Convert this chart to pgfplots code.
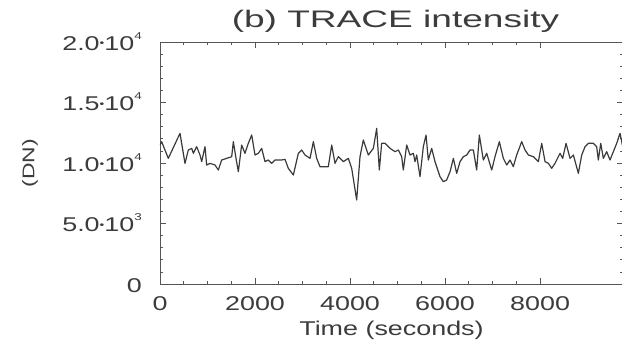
\documentclass[border=0pt]{standalone}
\usepackage{fontspec}
\setmainfont{Liberation Sans}[FakeStretch=1.35]
\newfontfamily\titlefont{Liberation Sans}[FakeStretch=1.55]
\usepackage{pgfplots}
\pgfplotsset{compat=1.18}
\definecolor{axgray}{HTML}{555555}
\definecolor{linegray}{HTML}{3A3A3A}
\definecolor{txtgray}{HTML}{3C3C3C}
\newcommand{\tk}{\fontsize{20}{24}\selectfont}
\newcommand{\sci}[2]{#1\raisebox{0.17em}{\scalebox{0.5}{\textbullet}}10\raisebox{0.55em}{\fontsize{10}{10}\selectfont #2}}
\begin{document}
\begin{tikzpicture}
\begin{axis}[
  name=ax,
  scale only axis,
  width=463bp, height=242bp,
  xmin=0, xmax=9746,
  ymin=0, ymax=20000,
  axis line style={axgray, line width=0.8bp},
  tick style={axgray, line width=0.7bp},
  major tick length=6bp,
  minor tick length=3bp,
  tick align=inside,
  xtick={0,2000,4000,6000,8000},
  xticklabels={0,2000,4000,6000,8000},
  minor x tick num=3,
  ytick={0,5000,10000,15000,20000},
  yticklabels={0,\sci{5.0}{3},\sci{1.0}{4},\sci{1.5}{4},\sci{2.0}{4}},
  minor y tick num=4,
  scaled ticks=false,
  ticklabel style={font=\tk, text=txtgray},
  xticklabel style={anchor=base, yshift=-26bp},
  yticklabel style={anchor=base east, inner sep=0pt, xshift=-18bp, yshift=-8bp},
  title={(b) TRACE intensity},
  title style={at={(axis description cs:0.5,1)}, anchor=base, yshift=9bp, xshift=4bp, font=\titlefont\fontsize{24}{28}\selectfont, text=txtgray},
  xlabel={Time (seconds)},
  every axis x label/.append style={at={(axis description cs:0.5,0)}, anchor=base, yshift=-51bp, font=\tk, text=txtgray},
  ylabel={(DN)},
  ylabel style={at={(axis description cs:0,0.5)}, anchor=center, yshift=130bp, font=\fontsize{17}{20}\selectfont, text=txtgray},
]
\addplot[linegray, line width=1.2bp, line join=round] coordinates {
(0,11500) (35,11762) (175,10386) (421,12452) (526,9972) (596,11074) (667,11211) (702,10799)
(772,11349) (842,10661) (877,10110) (947,11349) (982,9834) (1052,9972) (1158,9834) (1228,9421)
(1298,10248) (1403,10386) (1509,10523) (1544,11762) (1600,10386) (1649,9283) (1719,11487) (1789,10799)
(1859,11625) (1930,12313) (2000,10661) (2070,10799) (2140,11211) (2210,10110) (2280,10248) (2351,9972)
(2421,10248) (2561,10248) (2631,10303) (2701,9559) (2807,9008) (2912,10799) (2982,11074) (3052,10661)
(3158,10386) (3228,11762) (3298,10386) (3368,9696) (3473,9696) (3543,9696) (3614,11487) (3684,9972)
(3754,10523) (3859,10110) (3964,10386) (4035,9559) (4140,6942) (4210,10523) (4280,11900) (4385,10661)
(4491,11211) (4561,12865) (4617,9421) (4666,11625) (4736,11625)
(4842,11211) (4947,10936) (5017,11074) (5087,10523) (5122,9421) (5193,11487) (5263,10661) (5333,10799)
(5368,10110) (5403,10661) (5473,8870) (5543,11349) (5600,12313) (5648,10248) (5719,11211) (5789,10110)
(5894,8870) (5964,8456) (6034,8594) (6105,9283) (6175,10386) (6245,9146) (6315,10110) (6385,10523)
(6456,10661) (6526,11074) (6596,11074) (6666,9421) (6722,12313) (6806,10248) (6877,10799) (6982,9421)
(7052,10523) (7143,11762) (7227,10386) (7298,9834) (7368,10248) (7438,9696) (7508,10661) (7614,11762)
(7684,11074) (7754,10661) (7859,10523) (7964,10110) (8035,11625) (8105,10110) (8175,9972) (8245,9559)
(8315,9972) (8420,10799) (8477,10386) (8547,11625) (8631,10386) (8701,10661) (8806,9146) (8877,10661)
(8947,11349) (9017,11625) (9122,11625) (9192,11349) (9227,10248) (9277,11625) (9332,10386) (9403,10936)
(9473,10248) (9543,10936) (9613,11625) (9683,12452) (9740,11349)
};
\end{axis}
\pgfresetboundingbox
\path[use as bounding box] ([shift={(-160bp,-59bp)}]ax.south west) rectangle ([shift={(-1bp,42bp)}]ax.north east);
\end{tikzpicture}
\end{document}
